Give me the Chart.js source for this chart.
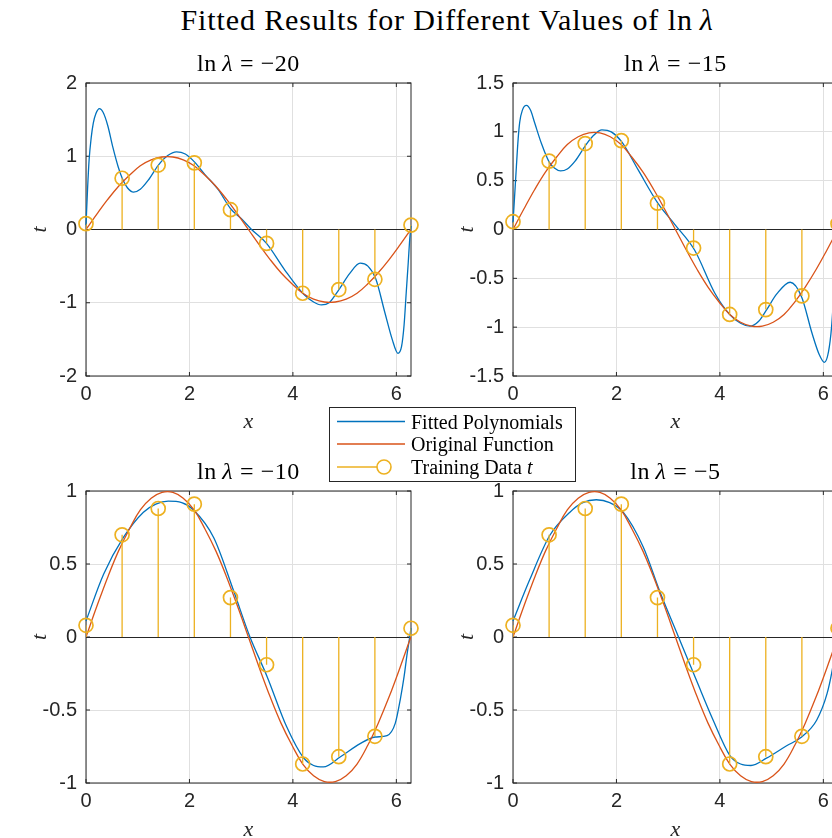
<!DOCTYPE html>
<html>
<head>
<meta charset="utf-8">
<script src="https://cdn.jsdelivr.net/npm/chart.js@4.4.1/dist/chart.umd.min.js"></script>
<style>
  html, body { margin: 0; padding: 0; background: #fff; overflow: hidden; }
  #figure { position: relative; width: 832px; height: 838px; overflow: hidden; background: #fff; }
  canvas { position: absolute; }
  .serif { position: absolute; font-family: 'Liberation Serif', 'Times New Roman', serif; color: #000; white-space: nowrap; line-height: 1; }
  #suptitle { left: 447px; top: 20px; font-size: 30px; letter-spacing: 0.9px; transform: translate(-50%, -50%); }
  .ptitle { font-size: 24px; letter-spacing: 0.6px; transform: translate(-50%, -50%); }
  #legend { position: absolute; left: 329px; top: 407px; width: 247px; height: 75px; box-sizing: border-box; border: 1px solid #262626; background: #fff; }
  #legend svg { position: absolute; left: 0; top: 0; }
  .lgtext { left: 81px; font-size: 20px; transform: translateY(-50%); }
</style>
</head>
<body>
<div id="figure">
  <div class="serif" id="suptitle">Fitted Results for Different Values of ln&thinsp;<i>λ</i></div>

  <canvas id="c20" width="440" height="400" style="left:0px;top:40px"></canvas>
  <canvas id="c15" width="440" height="400" style="left:427px;top:40px"></canvas>
  <canvas id="c10" width="440" height="400" style="left:0px;top:448px"></canvas>
  <canvas id="c5" width="440" height="400" style="left:427px;top:448px"></canvas>

  <div class="serif ptitle" style="left:248.5px;top:63px">ln&thinsp;<i>λ</i> = −20</div>
  <div class="serif ptitle" style="left:675.5px;top:63px">ln&thinsp;<i>λ</i> = −15</div>
  <div class="serif ptitle" style="left:248.5px;top:471px">ln&thinsp;<i>λ</i> = −10</div>
  <div class="serif ptitle" style="left:675.5px;top:471px">ln&thinsp;<i>λ</i> = −5</div>

  <div id="legend">
    <svg width="245" height="73">
      <line x1="7" y1="13.5" x2="75" y2="13.5" stroke="#0072BD" stroke-width="1.3"/>
      <line x1="7" y1="36" x2="75" y2="36" stroke="#D95319" stroke-width="1.3"/>
      <line x1="7" y1="59" x2="47" y2="59" stroke="#EDB120" stroke-width="1.3"/>
      <circle cx="54" cy="59" r="7" fill="none" stroke="#EDB120" stroke-width="1.6"/>
    </svg>
    <div class="serif lgtext" style="top:13.5px">Fitted Polynomials</div>
    <div class="serif lgtext" style="top:36px">Original Function</div>
    <div class="serif lgtext" style="top:59px">Training Data <i>t</i></div>
  </div>
</div>

<script>
const BLUE = '#0072BD';
const ORANGE = '#D95319';
const YELLOW = '#EDB120';

// training data (10 samples over one period)
const trainX = [0, 0.698, 1.396, 2.094, 2.793, 3.491, 4.189, 4.887, 5.585, 6.283];
const trainT = [0.08, 0.70, 0.88, 0.91, 0.27, -0.19, -0.87, -0.82, -0.68, 0.06];

// original function (red curve)
const origX = [0, 0.21, 0.42, 0.63, 0.84, 1.05, 1.26, 1.47, 1.68, 1.88, 2.09, 2.30, 2.51, 2.72, 2.93, 3.14,
  3.35, 3.56, 3.77, 3.98, 4.19, 4.40, 4.61, 4.82, 5.03, 5.24, 5.45, 5.65, 5.86, 6.07, 6.28];
const origT = [0, 0.21, 0.41, 0.59, 0.74, 0.87, 0.95, 0.99, 0.99, 0.95, 0.87, 0.74, 0.59, 0.41, 0.21, 0,
  -0.21, -0.41, -0.59, -0.74, -0.87, -0.95, -0.99, -0.99, -0.95, -0.87, -0.74, -0.59, -0.41, -0.21, 0];

// fitted polynomials (blue curves), one per ln(lambda)
const fitX20 = [0, 0.03, 0.06, 0.10, 0.14, 0.19, 0.26, 0.33, 0.42, 0.52, 0.62, 0.70, 0.80, 0.92, 1.05, 1.20,
  1.40, 1.58, 1.75, 1.92, 2.10, 2.30, 2.55, 2.80, 3.00, 3.20, 3.49, 3.84, 4.19, 4.40, 4.55, 4.70, 4.89,
  5.10, 5.30, 5.45, 5.60, 5.78, 5.92, 6.03, 6.10, 6.15, 6.19, 6.23, 6.26, 6.283];
const fitT20 = [0.06, 0.55, 0.95, 1.25, 1.45, 1.58, 1.65, 1.60, 1.42, 1.12, 0.86, 0.70, 0.57, 0.51, 0.55, 0.67,
  0.88, 1.01, 1.06, 1.03, 0.92, 0.75, 0.55, 0.28, 0.15, 0.0, -0.19, -0.55, -0.87, -0.99, -1.03, -1.00, -0.82,
  -0.60, -0.46, -0.50, -0.67, -1.14, -1.50, -1.69, -1.60, -1.30, -0.87, -0.45, -0.12, 0.05];

const fitX15 = [0, 0.03, 0.065, 0.10, 0.13, 0.18, 0.26, 0.34, 0.42, 0.55, 0.70, 0.80, 0.92, 1.05, 1.20, 1.40,
  1.55, 1.72, 1.90, 2.10, 2.42, 2.80, 3.13, 3.51, 3.90, 4.19, 4.40, 4.58, 4.75, 4.905, 5.10, 5.36, 5.58,
  5.78, 5.92, 6.02, 6.10, 6.16, 6.22, 6.283];
const fitT15 = [0.07, 0.33, 0.64, 0.93, 1.10, 1.22, 1.27, 1.22, 1.09, 0.88, 0.69, 0.63, 0.60, 0.62, 0.70, 0.86,
  0.96, 1.02, 1.00, 0.90, 0.61, 0.27, 0.05, -0.21, -0.65, -0.87, -0.96, -0.99, -0.94, -0.82, -0.66, -0.54, -0.69,
  -1.06, -1.28, -1.36, -1.25, -0.99, -0.50, 0.06];

const fitX10 = [0, 0.34, 0.72, 1.11, 1.35, 1.59, 1.85, 2.08, 2.47, 2.85, 3.17, 3.50, 3.88, 4.21, 4.40, 4.59,
  4.92, 5.30, 5.59, 5.82, 5.98, 6.08, 6.15, 6.21, 6.25, 6.283];
const fitT10 = [0.11, 0.43, 0.68, 0.855, 0.91, 0.93, 0.92, 0.87, 0.68, 0.32, 0.0, -0.27, -0.615, -0.83, -0.88, -0.89,
  -0.82, -0.73, -0.685, -0.675, -0.59, -0.42, -0.27, -0.11, -0.02, 0.06];

const fitX5 = [0, 0.32, 0.71, 1.10, 1.35, 1.61, 1.87, 2.13, 2.52, 2.84, 3.20, 3.55, 3.87, 4.19, 4.40, 4.60,
  4.90, 5.29, 5.58, 5.87, 6.07, 6.17, 6.23, 6.283];
const fitT5 = [0.11, 0.39, 0.695, 0.855, 0.92, 0.94, 0.92, 0.855, 0.615, 0.31, 0.0, -0.30, -0.57, -0.81, -0.87, -0.88,
  -0.83, -0.745, -0.685, -0.57, -0.39, -0.23, -0.10, 0.05];

const panels = [
  { id: 'c20', fitX: fitX20, fitT: fitT20, yMin: -2, yMax: 2, yStep: 1, xAxisH: 64 },
  { id: 'c15', fitX: fitX15, fitT: fitT15, yMin: -1.5, yMax: 1.5, yStep: 0.5, xAxisH: 64 },
  { id: 'c10', fitX: fitX10, fitT: fitT10, yMin: -1, yMax: 1, yStep: 0.5, xAxisH: 65 },
  { id: 'c5', fitX: fitX5, fitT: fitT5, yMin: -1, yMax: 1, yStep: 0.5, xAxisH: 65 },
];

const toPoints = (xs, ys) => xs.map((x, i) => ({ x: x, y: ys[i] }));

// vertical stems from the baseline, broken by null points
const stemPoints = trainX.flatMap((x, i) => [{ x: x, y: 0 }, { x: x, y: trainT[i] }, { x: x, y: null }]);

// matlab style box with inward ticks on all four sides
const axesBox = {
  id: 'axesBox',
  beforeDatasetsDraw(chart) {
    const { ctx, chartArea: a, scales: { x, y } } = chart;
    const tl = 4;
    ctx.save();
    ctx.strokeStyle = '#262626';
    ctx.lineWidth = 1;
    ctx.strokeRect(a.left, a.top, a.right - a.left, a.bottom - a.top);
    ctx.beginPath();
    x.ticks.forEach(t => {
      const px = x.getPixelForValue(t.value);
      ctx.moveTo(px, a.bottom); ctx.lineTo(px, a.bottom - tl);
      ctx.moveTo(px, a.top); ctx.lineTo(px, a.top + tl);
    });
    y.ticks.forEach(t => {
      const py = y.getPixelForValue(t.value);
      ctx.moveTo(a.left, py); ctx.lineTo(a.left + tl, py);
      ctx.moveTo(a.right, py); ctx.lineTo(a.right - tl, py);
    });
    ctx.stroke();
    ctx.restore();
  }
};

const tickFont = { family: "'Liberation Sans', Arial, sans-serif", size: 20 };
const labelFont = { family: "'Liberation Serif', 'Times New Roman', serif", size: 22, style: 'italic' };

const makeChart = (p) => {
  const ctx = document.getElementById(p.id).getContext('2d');
  return new Chart(ctx, {
    type: 'line',
    data: {
      datasets: [
        {
          data: toPoints(trainX, trainT),
          showLine: false,
          pointRadius: 7,
          pointBorderWidth: 1.7,
          pointBorderColor: YELLOW,
          pointBackgroundColor: 'rgba(0,0,0,0)',
          clip: false,
          order: 0
        },
        {
          data: stemPoints,
          borderColor: YELLOW,
          borderWidth: 1.3,
          pointRadius: 0,
          spanGaps: false,
          order: 1
        },
        {
          data: toPoints(origX, origT),
          borderColor: ORANGE,
          borderWidth: 1.3,
          pointRadius: 0,
          tension: 0.4,
          order: 2
        },
        {
          data: toPoints(p.fitX, p.fitT),
          borderColor: BLUE,
          borderWidth: 1.3,
          pointRadius: 0,
          cubicInterpolationMode: 'monotone',
          clip: false,
          order: 3
        }
      ]
    },
    options: {
      responsive: false,
      animation: false,
      events: [],
      layout: { padding: { top: 43, right: 29, left: 0, bottom: 0 } },
      plugins: { legend: { display: false }, tooltip: { enabled: false } },
      scales: {
        x: {
          type: 'linear',
          min: 0,
          max: 6.2832,
          afterFit: s => { s.height = p.xAxisH; },
          border: { display: false },
          grid: { color: '#e0e0e0', drawTicks: false },
          ticks: { stepSize: 2, includeBounds: false, padding: 6, font: tickFont, color: '#262626', callback: v => String(v) },
          title: { display: true, text: 'x', font: labelFont, color: '#262626', padding: { top: 0, bottom: 5 } }
        },
        y: {
          type: 'linear',
          min: p.yMin,
          max: p.yMax,
          afterFit: s => { s.width = 86; },
          border: { display: false },
          grid: {
            drawTicks: false,
            color: c => (c.tick && c.tick.value === 0 ? '#262626' : '#e0e0e0')
          },
          ticks: { stepSize: p.yStep, padding: 9, font: tickFont, color: '#262626', callback: v => String(Math.round(v * 10) / 10) },
          title: { display: true, text: 't', font: labelFont, color: '#262626', padding: { top: 27, bottom: 0 } }
        }
      }
    },
    plugins: [axesBox]
  });
};

panels.forEach(makeChart);
</script>
</body>
</html>
